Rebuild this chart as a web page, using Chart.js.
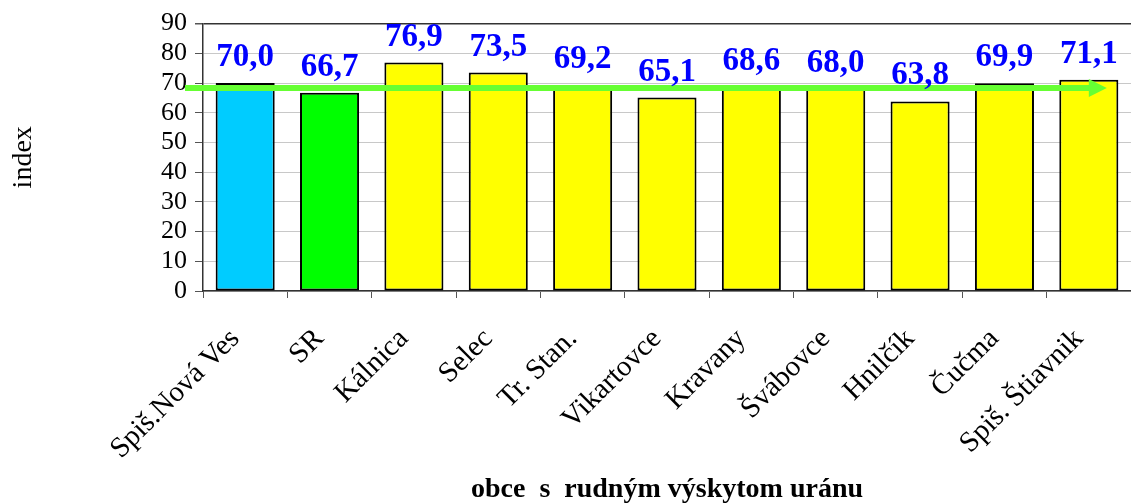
<!DOCTYPE html>
<html lang="sk">
  <head>
    <meta charset="UTF-8" />
    <title>index – obce s rudným výskytom uránu</title>
    <script src="https://cdn.jsdelivr.net/npm/chart.js@4"></script>
    <style>
      html, body { margin: 0; padding: 0; background: #fff; }
      #wrap { width: 1131px; height: 504px; position: relative; }
    </style>
  </head>
  <body>
    <div id="wrap"><canvas id="chart"></canvas></div>

    <script>
      // chart data
      const obce = ['Spiš.Nová Ves', 'SR', 'Kálnica', 'Selec', 'Tr. Stan.', 'Vikartovce',
                    'Kravany', 'Švábovce', 'Hnilčík', 'Čučma', 'Spiš. Štiavnik'];
      const indexValues = [70.0, 66.7, 76.9, 73.5, 69.2, 65.1, 68.6, 68.0, 63.8, 69.9, 71.1];
      const barColors = ['#00CCFF', '#00FF00', '#FFFF00', '#FFFF00', '#FFFF00', '#FFFF00',
                         '#FFFF00', '#FFFF00', '#FFFF00', '#FFFF00', '#FFFF00'];
      const arrowLevel = [68.3];
      const yRange = [0, 90];
      const yStep = 10;

      const serif = '"Liberation Serif", "Times New Roman", serif';

      // green arrow across the chart
      const arrowPlugin = {
        id: 'arrow',
        afterDatasetsDraw(chart) {
          const ctx = chart.ctx;
          const y = chart.scales.y.getPixelForValue(arrowLevel[0]);
          const x0 = chart.chartArea.left - 18;
          const x1 = chart.scales.x.getPixelForValue(obce.length - 1) + 18;
          ctx.save();
          ctx.strokeStyle = '#66FF33';
          ctx.fillStyle = '#66FF33';
          ctx.lineWidth = 6;
          ctx.beginPath();
          ctx.moveTo(x0, y);
          ctx.lineTo(x1 - 14, y);
          ctx.stroke();
          ctx.beginPath();
          ctx.moveTo(x1 - 18, y - 9);
          ctx.lineTo(x1, y);
          ctx.lineTo(x1 - 18, y + 9);
          ctx.closePath();
          ctx.fill();
          ctx.restore();
        }
      };

      // value labels above the bars
      const labelPlugin = {
        id: 'valueLabels',
        afterDatasetsDraw(chart) {
          const ctx = chart.ctx;
          const meta = chart.getDatasetMeta(0);
          ctx.save();
          ctx.font = 'bold 33px ' + serif;
          ctx.fillStyle = '#0000FF';
          ctx.textAlign = 'center';
          ctx.textBaseline = 'alphabetic';
          meta.data.forEach((bar, i) => {
            const txt = indexValues[i].toFixed(1).replace('.', ',');
            ctx.fillText(txt, bar.x, bar.y - 17);
          });
          ctx.restore();
        }
      };

      new Chart(document.getElementById('chart'), {
        type: 'bar',
        data: {
          labels: obce,
          datasets: [{
            data: indexValues,
            backgroundColor: barColors,
            borderColor: '#000',
            borderWidth: 2,
            borderSkipped: false,
            categoryPercentage: 1.0,
            barPercentage: 0.7
          }]
        },
        options: {
          responsive: true,
          maintainAspectRatio: false,
          animation: false,
          layout: { padding: { top: 21, right: 0, bottom: 0, left: 0 } },
          plugins: {
            legend: { display: false },
            tooltip: { enabled: false }
          },
          scales: {
            x: {
              afterFit(scale) {
                scale.height = 213;
                scale.paddingLeft = 0;
                scale.paddingRight = 0;
              },
              border: { color: '#333', width: 1.5 },
              grid: { drawOnChartArea: false, tickLength: 7, tickColor: '#555', offset: true },
              ticks: {
                color: '#000',
                font: { family: serif, size: 29 },
                minRotation: 45,
                maxRotation: 45,
                padding: 24,
                labelOffset: -10,
                autoSkip: false
              },
              title: {
                display: true,
                text: 'obce  s  rudným výskytom uránu',
                color: '#000',
                font: { family: serif, size: 28, weight: 'bold', lineHeight: 1 },
                padding: { top: 0, bottom: 0 }
              }
            },
            y: {
              min: yRange[0],
              max: yRange[1],
              afterFit(scale) { scale.width = 203; },
              border: { color: '#333', width: 1.5 },
              grid: {
                color: ctx => (ctx.tick && ctx.tick.value === yRange[1] ? '#333' : '#c8c8c8'),
                lineWidth: ctx => (ctx.tick && ctx.tick.value === yRange[1] ? 1.5 : 1),
                tickLength: 8,
                tickColor: '#555'
              },
              ticks: {
                stepSize: yStep,
                autoSkip: false,
                color: '#000',
                font: { family: serif, size: 26 },
                padding: 8
              },
              title: {
                display: true,
                text: 'index',
                color: '#000',
                font: { family: serif, size: 28, lineHeight: 1 },
                padding: { top: 10, bottom: 0 }
              }
            }
          }
        },
        plugins: [arrowPlugin, labelPlugin]
      });
    </script>
  </body>
</html>
